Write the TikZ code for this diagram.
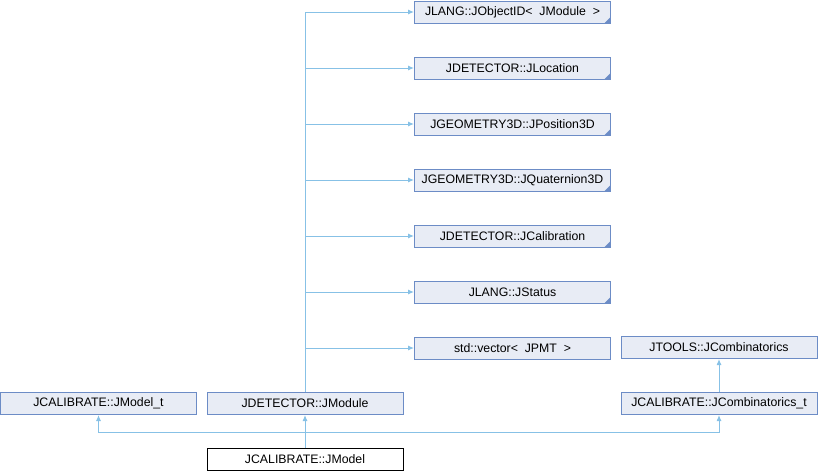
\documentclass[tikz,border=0pt]{standalone}
\usepackage{fontspec}
\setmainfont{Liberation Sans}
\usetikzlibrary{arrows.meta}
\definecolor{edgecol}{RGB}{135,193,230}
\definecolor{boxfill}{RGB}{232,236,245}
\definecolor{boxline}{RGB}{108,140,198}
\tikzset{
  cls/.style={draw=boxline, fill=boxfill, line width=1pt, rectangle,
    minimum width=196pt, minimum height=22pt, inner sep=0pt,
    font=\fontsize{12.3}{14}\selectfont},
  trunc/.style={path picture={\fill[boxline] (path picture bounding box.south east) -- ++(-6pt,0pt) -- ++(6pt,6pt) -- cycle;}},
  self/.style={cls, draw=black, fill=white},
  edge/.style={draw=edgecol, line width=1pt, -{Latex[length=6pt,width=5pt]}},
}
\begin{document}
\begin{tikzpicture}[x=1pt,y=-1pt]
\useasboundingbox (0,0) rectangle (818,472);
\node[cls,trunc] (objid) at (512.5,12) {JLANG::JObjectID<~ JModule~ >};
\node[cls,trunc] (loc) at (512.5,68) {JDETECTOR::JLocation};
\node[cls,trunc] (pos) at (512.5,124) {JGEOMETRY3D::JPosition3D};
\node[cls,trunc] (quat) at (512.5,180) {JGEOMETRY3D::JQuaternion3D};
\node[cls,trunc] (cal) at (512.5,236) {JDETECTOR::JCalibration};
\node[cls,trunc] (stat) at (512.5,292) {JLANG::JStatus};
\node[cls] (vec) at (512.5,348) {std::vector<~ JPMT~ >};
\node[cls] (comb) at (719,347.5) {JTOOLS::JCombinatorics};
\node[cls] (modelt) at (98.5,403.5) {JCALIBRATE::JModel\_t};
\node[cls] (mod) at (305,403.5) {JDETECTOR::JModule};
\node[cls] (combt) at (719,403.5) {JCALIBRATE::JCombinatorics\_t};
\node[self] (model) at (305,459.5) {JCALIBRATE::JModel};
\coordinate (j) at (305,432);
\foreach \t in {objid,loc,pos,quat,cal,stat,vec}
  \draw[edge] (mod.north) |- (\t.west);
\draw[edge] (model.north) -- (mod.south);
\draw[edge] (j) -| (modelt.south);
\draw[edge] (j) -| (combt.south);
\draw[edge] (combt.north) -- (comb.south);
\end{tikzpicture}
\end{document}
